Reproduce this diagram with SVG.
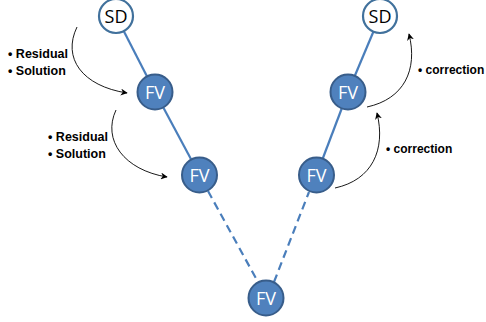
<svg xmlns="http://www.w3.org/2000/svg" width="486" height="322" viewBox="0 0 486 322">
  <defs>
    <marker id="arrow" viewBox="0 0 10 10" refX="9" refY="5" markerWidth="7" markerHeight="7" markerUnits="userSpaceOnUse" orient="auto">
      <path d="M0,0 L10,5 L0,10 L3,5 Z" fill="#000"/>
    </marker>
    <style>
      .edge { stroke: #4A7EBB; stroke-width: 2.2; fill: none; }
      .dash { stroke-dasharray: 8 5; }
      .flow { stroke: #000; stroke-width: 0.9; fill: none; marker-end: url(#arrow); }
      .fv circle { fill: #4F81BD; stroke: #385D8A; stroke-width: 2; }
      .sd circle { fill: #fff; stroke: #41719C; stroke-width: 2.2; }
      .fv text { fill: #fff; font-family: "Open Sans", "Noto Sans", "Liberation Sans", sans-serif; font-size: 18px; text-anchor: middle; }
      .sd text { fill: #000; font-family: "Open Sans", "Noto Sans", "Liberation Sans", sans-serif; font-size: 18px; text-anchor: middle; }
      .lbl { fill: #000; font-family: "Liberation Sans", Arial, sans-serif; font-size: 12.5px; font-weight: bold; }
      .lbl.c { font-size: 12px; }
    </style>
  </defs>

  <!-- connectors between levels -->
  <g id="connectors">
    <line class="edge" x1="116" y1="16" x2="155" y2="92"/>
    <line class="edge" x1="155" y1="92" x2="199.5" y2="175"/>
    <line class="edge dash" x1="208" y1="191" x2="258" y2="282"/>
    <line class="edge dash" x1="274" y1="282" x2="309" y2="192"/>
    <line class="edge" x1="316.5" y1="175" x2="348" y2="92"/>
    <line class="edge" x1="348" y1="92" x2="380" y2="16"/>

    <!-- restriction arrows (down) -->
    <path class="flow" d="M77,27 C62,58 82,86 127,93"/>
    <path class="flow" d="M116,110 C102,140 124,170 167,177"/>
    <!-- prolongation arrows (up) -->
    <path class="flow" d="M335,188 C372,180 386,150 377,113"/>
    <path class="flow" d="M367,107 C404,99 418,70 409,34"/>
  </g>

  <!-- nodes -->
  <g id="sd-left" class="sd"><circle cx="116" cy="16" r="17"/><text x="116" y="22.5">SD</text></g>
  <g id="fv-left-1" class="fv"><circle cx="155" cy="92" r="17.5"/><text x="155" y="98.5">FV</text></g>
  <g id="fv-left-2" class="fv"><circle cx="199.5" cy="175" r="17.5"/><text x="199.5" y="181.5">FV</text></g>
  <g id="fv-bottom" class="fv"><circle cx="266" cy="298" r="17.5"/><text x="266" y="304.5">FV</text></g>
  <g id="fv-right-2" class="fv"><circle cx="316.5" cy="175" r="17.5"/><text x="316.5" y="181.5">FV</text></g>
  <g id="fv-right-1" class="fv"><circle cx="348" cy="92" r="17.5"/><text x="348" y="98.5">FV</text></g>
  <g id="sd-right" class="sd"><circle cx="380" cy="16" r="17"/><text x="380" y="22.5">SD</text></g>

  <!-- labels -->
  <g id="labels">
    <text class="lbl" x="8" y="58">• Residual</text>
    <text class="lbl" x="8" y="75">• Solution</text>
    <text class="lbl" x="48" y="141">• Residual</text>
    <text class="lbl" x="48" y="158">• Solution</text>
    <text class="lbl c" x="418" y="74">• correction</text>
    <text class="lbl c" x="386" y="153">• correction</text>
  </g>
</svg>
